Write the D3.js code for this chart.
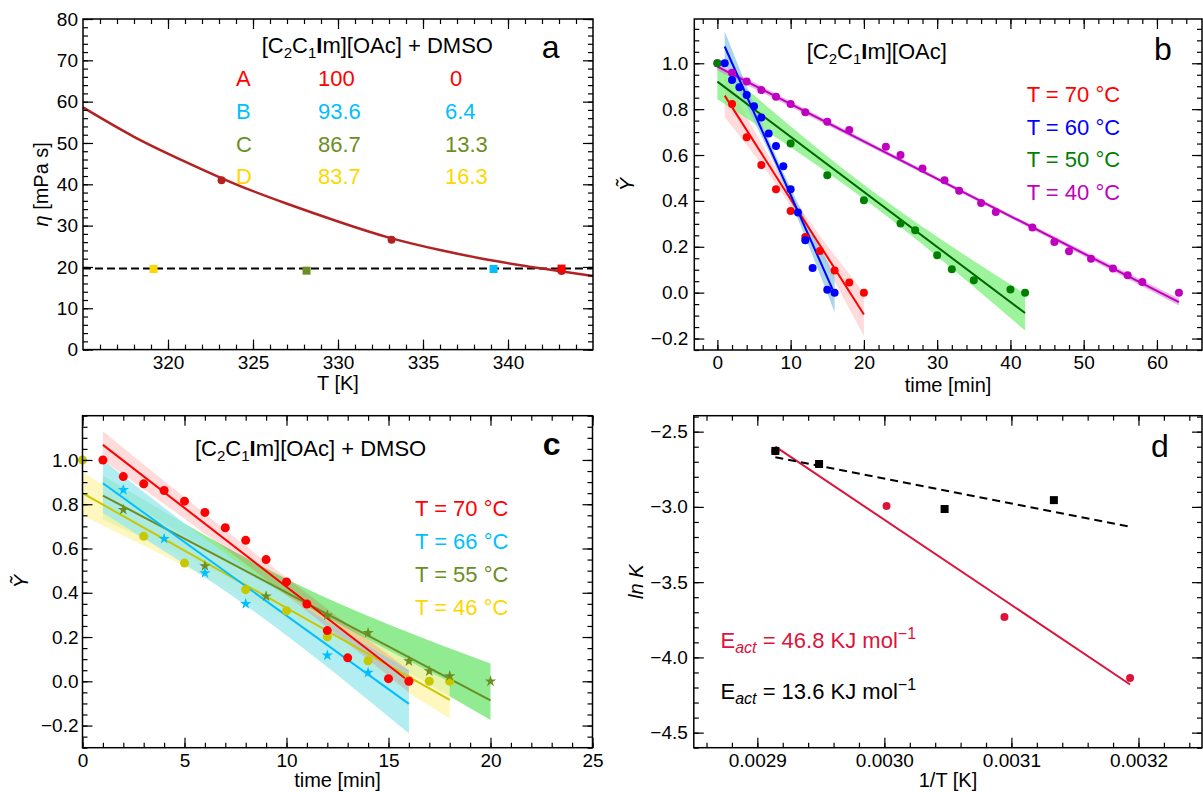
<!DOCTYPE html>
<html>
<head>
<meta charset="utf-8">
<script src="https://cdn.jsdelivr.net/npm/d3@7"></script>
<style>
  body { margin: 0; background: #fff; }
  svg { font-family: "Liberation Sans", Arial, sans-serif; }
</style>
</head>
<body>
<svg id="fig" width="1203" height="792"></svg>
<script>
// ---------- panel a : viscosity vs T
var aCurveT   = [315, 318, 321, 324, 327, 330, 333, 336, 339, 342, 345];
var aCurveEta = [58.6, 51.5, 45.5, 40.0, 35.3, 31.0, 27.1, 24.1, 21.6, 19.6, 17.8];
var aCircT    = [323.15, 333.15, 343.15];
var aCircEta  = [41.0, 26.6, 19.0];
var aSqT      = [319.15, 328.15, 339.15, 343.15];
var aSqEta    = [19.5, 19.1, 19.5, 19.6];
var aRefEta   = 19.6;
var aLetters  = ["A", "B", "C", "D"];
var aIL       = ["100", "93.6", "86.7", "83.7"];
var aDMSO     = ["0", "6.4", "13.3", "16.3"];
var aColors   = ["#ff0000", "#00bfff", "#6b8e23", "#ffd700"];
var aSqColors = ["#ffd700", "#6b8e23", "#00bfff", "#ff0000"];
var aXTicks   = [320, 325, 330, 335, 340];
var aYTicks   = [0, 10, 20, 30, 40, 50, 60, 70, 80];

// ---------- panel b : neat IL, Y~ vs time
var bRedT   = [2, 4, 6, 8, 10, 12, 14, 16, 18, 20];
var bRedY   = [0.822, 0.677, 0.556, 0.451, 0.356, 0.243, 0.182, 0.097, 0.044, 0.0];
var bBlueT  = [1, 2, 3, 4, 5, 6, 7, 8, 9, 10, 11, 12, 13, 15, 16];
var bBlueY  = [1.0, 0.927, 0.895, 0.862, 0.813, 0.764, 0.694, 0.639, 0.551, 0.451, 0.349, 0.228, 0.107, 0.013, 0.0];
var bGreenT = [0, 10, 15, 20, 25, 27, 30, 32, 35, 40, 42];
var bGreenY = [1.0, 0.65, 0.512, 0.403, 0.301, 0.272, 0.163, 0.102, 0.054, 0.014, 0.0];
var bMagT   = [0, 2, 4, 6, 8, 10, 12, 15, 18, 23, 25, 28, 31, 33, 36, 38, 43, 46, 48, 51, 54, 56, 58, 63];
var bMagY   = [1.0, 0.959, 0.92, 0.883, 0.854, 0.822, 0.786, 0.745, 0.709, 0.636, 0.6, 0.541, 0.49, 0.444,
               0.391, 0.352, 0.284, 0.221, 0.18, 0.148, 0.105, 0.076, 0.046, 0.0];
// fitted lines (end points) and confidence bands (start, middle, end)
var bRedFitT = [1, 20],  bRedFitY = [0.859, -0.095];
var bRedBandT = [1, 10.5, 20], bRedBandLo = [0.765, 0.352, -0.19], bRedBandHi = [0.945, 0.412, 0.0];
var bBlueFitT = [1, 16], bBlueFitY = [1.073, -0.005];
var bBlueBandT = [1, 8.5, 16], bBlueBandLo = [1.0, 0.51, -0.085], bBlueBandHi = [1.14, 0.56, 0.075];
var bGreenFitT = [0, 42], bGreenFitY = [0.92, -0.089];
var bGreenBandT = [0, 21, 42], bGreenBandLo = [0.843, 0.385, -0.165], bGreenBandHi = [0.997, 0.446, -0.005];
var bMagFitT = [0, 63], bMagFitY = [0.985, -0.041];
var bMagBandT = [0, 31.5, 63], bMagBandLo = [0.97, 0.464, -0.056], bMagBandHi = [1.0, 0.48, -0.026];
var bLegend = ["T = 70 °C", "T = 60 °C", "T = 50 °C", "T = 40 °C"];
var bLegendColors = ["#ff0000", "#0000ff", "#008000", "#c000c0"];
var bXTicks = [0, 10, 20, 30, 40, 50, 60];
var bYTicks = [-0.2, 0, 0.2, 0.4, 0.6, 0.8, 1.0];

// ---------- panel c : IL + DMSO, Y~ vs time
var cRedT    = [1, 2, 3, 4, 5, 6, 7, 8, 9, 10, 11, 12, 13, 15, 16];
var cRedY    = [1.0, 0.925, 0.892, 0.862, 0.814, 0.763, 0.694, 0.637, 0.55, 0.449, 0.349, 0.229, 0.106, 0.012, 0.0];
var cCyanT   = [2, 4, 6, 8, 12, 14];
var cCyanY   = [0.865, 0.644, 0.489, 0.35, 0.117, 0.039];
var cOliveT  = [2, 6, 9, 12, 14, 16, 17, 18, 20];
var cOliveY  = [0.775, 0.521, 0.384, 0.298, 0.219, 0.091, 0.046, 0.024, 0.0];
var cYellowT = [0, 3, 5, 8, 10, 12, 14, 16, 17, 18];
var cYellowY = [1.0, 0.655, 0.534, 0.414, 0.319, 0.201, 0.093, 0.006, 0.0, 0.0];
var cRedFitT = [1, 16], cRedFitY = [1.068, 0.0];
var cRedBandT = [1, 8.5, 16], cRedBandLo = [1.0, 0.495, -0.05], cRedBandHi = [1.13, 0.575, 0.05];
var cCyanFitT = [1, 16], cCyanFitY = [0.895, -0.102];
var cCyanBandT = [1, 8.5, 16], cCyanBandLo = [0.76, 0.31, -0.235], cCyanBandHi = [1.0, 0.48, 0.05];
var cOliveFitT = [1, 20], cOliveFitY = [0.839, -0.086];
var cOliveBandT = [1, 10.5, 20], cOliveBandLo = [0.73, 0.315, -0.175], cOliveBandHi = [0.93, 0.44, 0.08];
var cYellowFitT = [0, 18], cYellowFitY = [0.85, -0.084];
var cYellowBandT = [0, 9, 18], cYellowBandLo = [0.749, 0.325, -0.168], cYellowBandHi = [0.944, 0.44, -0.003];
var cLegend = ["T = 70 °C", "T = 66 °C", "T = 55 °C", "T = 46 °C"];
var cLegendColors = ["#ff0000", "#00bfff", "#6b8e23", "#ffd700"];
var cXTicks = [0, 5, 10, 15, 20, 25];
var cYTicks = [-0.2, 0, 0.2, 0.4, 0.6, 0.8, 1.0];

// ---------- panel d : Arrhenius plot
var dRedX = [0.0029142, 0.0030017, 0.0030945, 0.0031934];
var dRedY = [-2.63, -2.994, -3.731, -4.137];
var dBlkX = [0.0029142, 0.0029486, 0.0030474, 0.0031334];
var dBlkY = [-2.628, -2.715, -3.014, -2.955];
var dRedFitX = [0.0029142, 0.0031934], dRedFitY = [-2.60, -4.18];
var dBlkFitX = [0.0029142, 0.0031934], dBlkFitY = [-2.67, -3.132];
var dEact = ["46.8", "13.6"];
var dEactColors = ["#dc143c", "#000000"];
var dXTicks = [0.0029, 0.0030, 0.0031, 0.0032];
var dYTicks = [-4.5, -4.0, -3.5, -3.0, -2.5];

var svg = d3.select("#fig");

function clean(g) {
  g.select(".domain").remove();
  g.attr("font-size", 19).attr("font-family", null);
  g.selectAll("line").attr("stroke", "#000").attr("stroke-width", 1.2);
  g.selectAll("text").attr("fill", "#000");
}

// inward ticks on all four sides, labels only bottom/left
function frame(x, y, xMaj, xMin, yMaj, yMin, xFmt, yFmt, ypad) {
  var L = x.range()[0], R = x.range()[1], B = y.range()[0], T = y.range()[1];
  var sides = [
    [d3.axisBottom, x, "translate(0," + B + ")", true],
    [d3.axisTop, x, "translate(0," + T + ")", false],
    [d3.axisLeft, y, "translate(" + L + ",0)", true],
    [d3.axisRight, y, "translate(" + R + ",0)", false]
  ];
  sides.forEach(function(s) {
    var isX = s[1] === x;
    var minor = s[0](s[1]).tickValues(isX ? xMin : yMin).tickSizeInner(-5).tickSizeOuter(0)
      .tickFormat(function() { return ""; });
    svg.append("g").attr("transform", s[2]).call(minor).call(clean);
    var major = s[0](s[1]).tickValues(isX ? xMaj : yMaj).tickSizeInner(-10).tickSizeOuter(0)
      .tickPadding(isX ? 6 : ypad)
      .tickFormat(s[3] ? (isX ? xFmt : yFmt) : function() { return ""; });
    svg.append("g").attr("transform", s[2]).call(major).call(clean);
  });
  svg.append("rect").attr("x", L).attr("y", T).attr("width", R - L).attr("height", B - T)
    .attr("fill", "none").attr("stroke", "#000").attr("stroke-width", 1.5);
}

function band(x, y, T, lo, hi, color, op) {
  var area = d3.area().x(function(d) { return x(d[0]); })
    .y0(function(d) { return y(d[1]); }).y1(function(d) { return y(d[2]); })
    .curve(d3.curveNatural);
  svg.append("path").attr("d", area(d3.zip(T, lo, hi))).attr("fill", color).attr("fill-opacity", op);
}

function fitLine(x, y, T, V, color, w, dash) {
  var line = d3.line().x(function(d) { return x(d[0]); }).y(function(d) { return y(d[1]); });
  svg.append("path").attr("d", line(d3.zip(T, V))).attr("fill", "none")
    .attr("stroke", color).attr("stroke-width", w).attr("stroke-dasharray", dash || null);
}

function dots(x, y, T, V, color, r) {
  svg.append("g").selectAll("circle").data(d3.zip(T, V)).join("circle")
    .attr("cx", function(d) { return x(d[0]); }).attr("cy", function(d) { return y(d[1]); })
    .attr("r", r).attr("fill", color);
}

function stars(x, y, T, V, color, size) {
  var sym = d3.symbol().type(d3.symbolStar).size(size);
  svg.append("g").selectAll("path").data(d3.zip(T, V)).join("path")
    .attr("transform", function(d) { return "translate(" + x(d[0]) + "," + y(d[1]) + ")"; })
    .attr("d", sym).attr("fill", color);
}

function squares(x, y, T, V, colors, s) {
  svg.append("g").selectAll("rect").data(d3.zip(T, V)).join("rect")
    .attr("x", function(d) { return x(d[0]) - s / 2; }).attr("y", function(d) { return y(d[1]) - s / 2; })
    .attr("width", s).attr("height", s)
    .attr("fill", function(d, i) { return Array.isArray(colors) ? colors[i] : colors; });
}

// [C2C1Im][OAc] with sub-scripts
function chem(x, yb, suffix) {
  var t = svg.append("text").attr("x", x).attr("y", yb).attr("font-size", 22);
  t.append("tspan").text("[C");
  t.append("tspan").attr("font-size", 15).attr("dy", 5).text("2");
  t.append("tspan").attr("dy", -5).text("C");
  t.append("tspan").attr("font-size", 15).attr("dy", 5).text("1");
  t.append("tspan").attr("dy", -5).attr("font-weight", "bold").text("I");
  t.append("tspan").text("m][OAc]" + suffix);
}

function legend(x, baselines, labels, colors) {
  labels.forEach(function(s, i) {
    svg.append("text").attr("x", x).attr("y", baselines[i]).attr("font-size", 22)
      .attr("fill", colors[i]).text(s);
  });
}

function ylabel(x, y, fn) {
  var t = svg.append("text").attr("transform", "translate(" + x + "," + y + ") rotate(-90)")
    .attr("text-anchor", "middle").attr("dy", "0.35em").attr("font-size", 20);
  fn(t);
}

function xlabel(x, y, s) {
  svg.append("text").attr("x", x).attr("y", y).attr("text-anchor", "middle").attr("font-size", 20).text(s);
}

// ================= panel a
var xa = d3.scaleLinear().domain([315, 345]).range([83, 593]);
var ya = d3.scaleLinear().domain([0, 80]).range([349.6, 19]);
fitLine(xa, ya, xa.domain(), [aRefEta, aRefEta], "#000", 2, "8,4");
var curve = d3.line().x(function(d) { return xa(d[0]); }).y(function(d) { return ya(d[1]); }).curve(d3.curveNatural);
svg.append("path").attr("d", curve(d3.zip(aCurveT, aCurveEta))).attr("fill", "none")
  .attr("stroke", "#b22222").attr("stroke-width", 2.5);
dots(xa, ya, aCircT, aCircEta, "#b22222", 4);
squares(xa, ya, aSqT, aSqEta, aSqColors, 8);
frame(xa, ya, aXTicks, d3.range(316, 345, 1), aYTicks, d3.range(0, 81, 2),
  d3.format("d"), d3.format("d"), 5);
chem(261.7, 53.3, " + DMSO");
var aRows = [86, 118.5, 151.5, 184];
legend(236, aRows, aLetters, aColors);
legend(318, aRows, aIL, aColors);
aDMSO.forEach(function(s, i) {
  svg.append("text").attr("x", i === 0 ? 450 : 445).attr("y", aRows[i]).attr("font-size", 22)
    .attr("fill", aColors[i]).text(s);
});
svg.append("text").attr("x", 541.7).attr("y", 58.3).attr("font-size", 32).text("a");
ylabel(41, 184.3, function(t) {
  t.append("tspan").attr("font-style", "italic").text("η");
  t.append("tspan").text(" [mPa s]");
});
xlabel(338, 390, "T [K]");

// ================= panel b
var xb = d3.scaleLinear().domain([-3.15, 66.15]).range([694.3, 1202]);
var yb = d3.scaleLinear().domain([-0.25, 1.193]).range([350, 19]);
band(xb, yb, bRedBandT, bRedBandLo, bRedBandHi, "#ff0000", 0.14);
band(xb, yb, bGreenBandT, bGreenBandLo, bGreenBandHi, "#7cf07c", 0.75);
band(xb, yb, bBlueBandT, bBlueBandLo, bBlueBandHi, "#8cc8e0", 0.75);
band(xb, yb, bMagBandT, bMagBandLo, bMagBandHi, "#d070d0", 0.5);
fitLine(xb, yb, bMagFitT, bMagFitY, "#c000c0", 2);
fitLine(xb, yb, bGreenFitT, bGreenFitY, "#006400", 2);
fitLine(xb, yb, bRedFitT, bRedFitY, "#ff0000", 2);
fitLine(xb, yb, bBlueFitT, bBlueFitY, "#0000ff", 2);
dots(xb, yb, bMagT, bMagY, "#c000c0", 4);
dots(xb, yb, bGreenT, bGreenY, "#008000", 4);
dots(xb, yb, bRedT, bRedY, "#ff0000", 4);
dots(xb, yb, bBlueT, bBlueY, "#0000ff", 4);
frame(xb, yb, bXTicks, d3.range(-2, 66, 2), bYTicks, d3.range(-0.25, 1.19, 0.05),
  d3.format("d"), d3.format(".1f"), 6);
chem(806.7, 59, "");
svg.append("text").attr("x", 1154).attr("y", 60).attr("font-size", 32).text("b");
legend(1026.7, [101.7, 134.5, 167, 199.5], bLegend, bLegendColors);
ylabel(627, 184.5, function(t) { t.append("tspan").attr("font-style", "italic").text("Ỹ"); });
xlabel(948, 392, "time [min]");

// ================= panel c
var xc = d3.scaleLinear().domain([0, 25]).range([82.5, 592.5]);
var yc = d3.scaleLinear().domain([-0.3, 1.2]).range([747.7, 415.7]);
band(xc, yc, cOliveBandT, cOliveBandLo, cOliveBandHi, "#7ee87e", 0.85);
band(xc, yc, cYellowBandT, cYellowBandLo, cYellowBandHi, "#fff5b0", 0.8);
band(xc, yc, cCyanBandT, cCyanBandLo, cCyanBandHi, "#9ee8ee", 0.8);
band(xc, yc, cRedBandT, cRedBandLo, cRedBandHi, "#ff0000", 0.14);
fitLine(xc, yc, cYellowFitT, cYellowFitY, "#c8c800", 2);
fitLine(xc, yc, cOliveFitT, cOliveFitY, "#6b8e23", 2);
fitLine(xc, yc, cCyanFitT, cCyanFitY, "#00bfff", 2);
fitLine(xc, yc, cRedFitT, cRedFitY, "#ff0000", 2);
dots(xc, yc, cYellowT, cYellowY, "#c8c800", 4.5);
dots(xc, yc, cRedT, cRedY, "#ff0000", 4.5);
stars(xc, yc, cOliveT, cOliveY, "#6b8e23", 40);
stars(xc, yc, cCyanT, cCyanY, "#00bfff", 40);
frame(xc, yc, cXTicks, d3.range(0, 26, 1), cYTicks, d3.range(-0.3, 1.21, 0.05),
  d3.format("d"), d3.format(".1f"), 4);
chem(195, 456, " + DMSO");
svg.append("text").attr("x", 542.7).attr("y", 455).attr("font-size", 32).attr("font-weight", "bold").text("c");
legend(415, [516, 548.5, 581.5, 614.5], cLegend, cLegendColors);
ylabel(21, 581.7, function(t) { t.append("tspan").attr("font-style", "italic").text("Ỹ"); });
xlabel(337.5, 787, "time [min]");

// ================= panel d
var xd = d3.scaleLinear().domain([0.00285, 0.00325]).range([693.8, 1202]);
var yd = d3.scaleLinear().domain([-4.6, -2.394]).range([747.7, 415.7]);
fitLine(xd, yd, dRedFitX, dRedFitY, "#dc143c", 2);
fitLine(xd, yd, dBlkFitX, dBlkFitY, "#000", 2, "8,5");
dots(xd, yd, dRedX, dRedY, "#dc143c", 4);
squares(xd, yd, dBlkX, dBlkY, "#000", 8);
frame(xd, yd, dXTicks, d3.range(0.00286, 0.003251, 0.00002), dYTicks, d3.range(-4.6, -2.39, 0.1),
  d3.format(".4f"), d3.format(".1f"), 6);
svg.append("text").attr("x", 1151).attr("y", 456.7).attr("font-size", 32).text("d");
[648.3, 699.3].forEach(function(yy, i) {
  var t = svg.append("text").attr("x", 720.5).attr("y", yy).attr("font-size", 22).attr("fill", dEactColors[i]);
  t.append("tspan").text("E");
  t.append("tspan").attr("font-size", 16).attr("font-style", "italic").attr("dy", 5).text("act");
  t.append("tspan").attr("dy", -5).text(" = " + dEact[i] + " KJ mol");
  t.append("tspan").attr("font-size", 16).attr("dy", -9).text("−1");
});
ylabel(636, 581.7, function(t) { t.append("tspan").attr("font-style", "italic").text("ln K"); });
xlabel(948, 787, "1/T [K]");
</script>
</body>
</html>
